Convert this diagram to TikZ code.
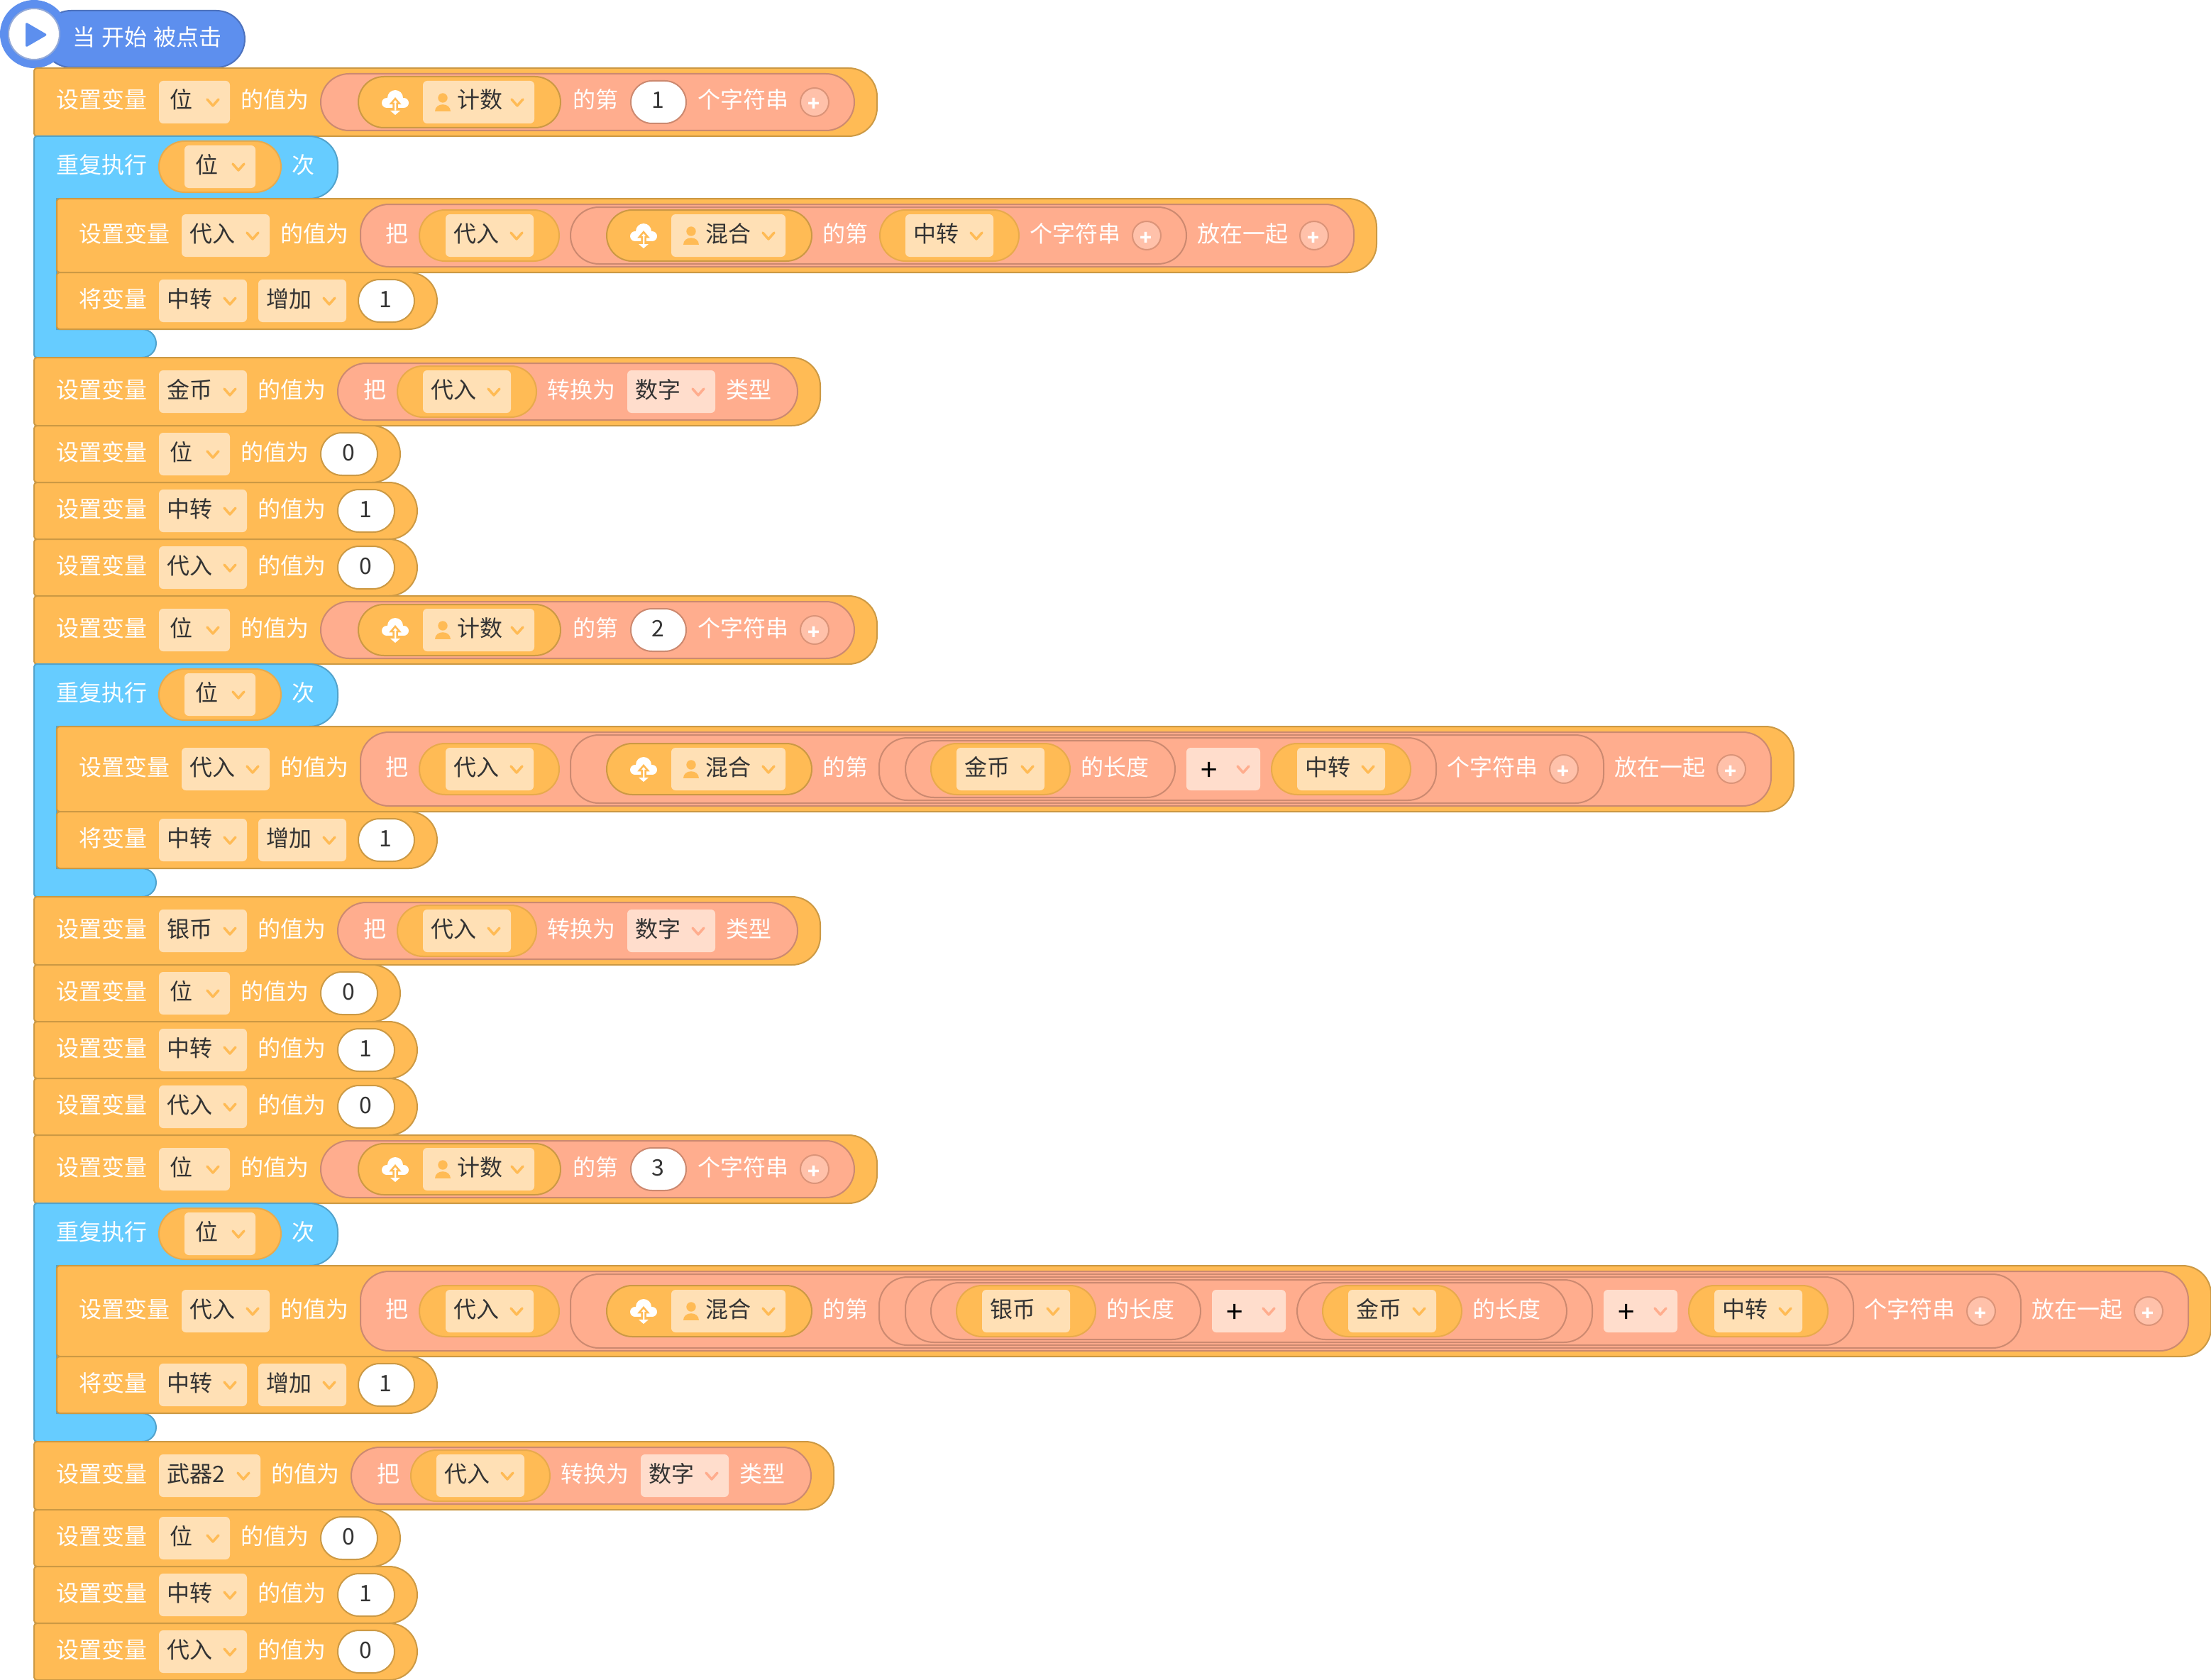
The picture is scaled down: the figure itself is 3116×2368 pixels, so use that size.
\documentclass[tikz,border=0pt]{standalone}
\usepackage{fontspec}
\setmainfont{Noto Sans CJK SC}
\definecolor{setorange}{HTML}{FFBB55}
\definecolor{setedge}{HTML}{CC9944}
\definecolor{varedge}{HTML}{E8AA4C}
\definecolor{loopblue}{HTML}{66CCFF}
\definecolor{loopedge}{HTML}{52A3CC}
\definecolor{hatblue}{HTML}{5D8FEE}
\definecolor{hatedge}{HTML}{4D72BE}
\definecolor{mathpink}{HTML}{FFAD8E}
\definecolor{mathedge}{HTML}{CC8970}
\definecolor{fieldtan}{HTML}{FFE0B5}
\definecolor{oppink}{HTML}{FFDDCC}
\definecolor{inkgrey}{HTML}{333333}
\tikzset{
    setblock/.style={fill=setorange, draw=setedge, line width=2pt},
    loopblock/.style={fill=loopblue, draw=loopedge, line width=2pt},
    hatblock/.style={fill=hatblue, draw=hatedge, line width=2pt},
    mathpill/.style={fill=mathpink, draw=mathedge, line width=2pt},
    varpill/.style={fill=setorange, draw=varedge, line width=2pt},
    cloudpill/.style={fill=setorange, draw=setedge, line width=2pt},
    plusbtn/.style={fill=mathpink!75!white, draw=mathedge!70!mathpink, line width=2pt},
    lbl/.style={inner sep=0pt, anchor=west, text=white, font=\fontsize{32}{32}\selectfont, text height=28pt, text depth=4pt, xshift=-1pt, yshift=3pt},
    inklbl/.style={lbl, text=inkgrey},
    chev/.style={line width=3.5pt, line cap=round, line join=round}
}
\newcommand{\capsule}[5]{%
    \pgfmathsetmacro{\cornerr}{min(40,#5)}
    \draw[#1, rounded corners=\cornerr pt] (#2,{#4-(#5)}) rectangle (#3,{#4+(#5)});
}
\newcommand{\stackblock}[5]{%
    \pgfmathsetmacro{\cornerr}{min(40,((#5)-(#4))/2)}
    \draw[#1] (#2,#4+4) arc[start angle=180, end angle=90, radius=4pt] -- (#3-\cornerr,#4)
        arc[start angle=90, end angle=0, radius=\cornerr pt] -- (#3,#5-\cornerr)
        arc[start angle=0, end angle=-90, radius=\cornerr pt] -- (#2+4,#5)
        arc[start angle=-90, end angle=-180, radius=4pt] -- cycle;
}
\newcommand{\loopshape}[4]{%
    \draw[loopblock] (48,#1+4) arc[start angle=180, end angle=90, radius=4pt] -- (436,#1)
        arc[start angle=90, end angle=0, radius=40pt] -- (476,#2-40)
        arc[start angle=0, end angle=-90, radius=40pt] -- (80,#2) -- (80,#3) -- (200,#3)
        arc[start angle=90, end angle=-90, radius=20pt] -- (52,#4)
        arc[start angle=-90, end angle=-180, radius=4pt] -- cycle;
    \node[lbl] (lbl80-#1) at (80,#1+43) {重复执行};
    \capsule{varpill}{224}{396}{#1+43}{36}
    \dropfield{260}{360}{#1+43}{位}
    \node[lbl] (lbl412-#1) at (412,#1+43) {次};
}
\newcommand{\dropfield}[4]{%
    \fill[fieldtan, rounded corners=6pt] (#1,#3-30) rectangle (#2,#3+30);
    \node[inklbl, anchor=center] (fld#1-#3) at ({(#1+#2-36)/2},#3) {#4};
    \draw[chev, setorange] (#2-32,#3-4) -- (#2-24,#3+5) -- (#2-16,#3-4);
}
\newcommand{\userfield}[4]{%
    \fill[fieldtan, rounded corners=6pt] (#1,#3-30) rectangle (#2,#3+30);
    \fill[setorange] (#1+28,#3-6) ellipse[x radius=6.7pt, y radius=6.7pt];
    \fill[setorange] (#1+17,#3+13) .. controls (#1+17,#3) and (#1+39,#3) .. (#1+39,#3+13) -- cycle;
    \node[inklbl] (fld#1-#3) at (#1+49,#3) {#4};
    \draw[chev, setorange] (#2-32,#3-4) -- (#2-24,#3+5) -- (#2-16,#3-4);
}
\newcommand{\opfield}[4]{%
    \fill[oppink, rounded corners=6pt] (#1,#3-30) rectangle (#2,#3+30);
    \node[inklbl, anchor=center] (op#1-#3) at ({(#1+#2-36)/2},#3) {#4};
    \draw[chev, mathpink] (#2-32,#3-4) -- (#2-24,#3+5) -- (#2-16,#3-4);
}
\newcommand{\plusfield}[2]{%
    \fill[oppink, rounded corners=6pt] (#1,#2-30) rectangle (#1+104,#2+30);
    \node[inklbl, anchor=center, text=black, font=\fontsize{42}{42}\selectfont, yshift=-7pt] (op#1-#2) at (#1+33,#2) {+};
    \draw[chev, mathpink] (#1+72,#2-4) -- (#1+80,#2+5) -- (#1+88,#2-4);
}
\newcommand{\numpill}[5][setedge]{%
    \draw[fill=white, draw=#1, line width=2pt, rounded corners=30pt] (#2,#4-30) rectangle (#3,#4+30);
    \node[inklbl, anchor=center] (num#2-#4) at ({(#2+#3)/2},#4) {#5};
}
\newcommand{\plusround}[2]{%
    \draw[plusbtn] (#1,#2) circle[radius=20pt];
    \node[lbl, anchor=center, text=white, font=\fontsize{28}{28}\selectfont\bfseries, yshift=-4pt] (add#1-#2) at (#1,#2) {+};
}
\newcommand{\cloudmark}[2]{%
    \begin{scope}[shift={(#1,#2)}]
        \fill[white] (0,-6) circle[radius=11pt] (-12,1) circle[radius=7pt] (12,1) circle[radius=7pt];
        \fill[white] (-12,-2) rectangle (12,8);
        \filldraw[fill=white, draw=setorange, line width=2.5pt] (0,-5) -- (-6,2) -- (-2.5,2) -- (-2.5,13) -- (2.5,13) -- (2.5,2) -- (6,2) -- cycle;
        \fill[white] (-7,12) -- (7,12) -- (0,18) -- cycle;
    \end{scope}
}
\newcommand{\cloudvar}[4]{%
    \capsule{cloudpill}{#1}{#2}{#3}{36}
    \cloudmark{#1+52}{#3}
    \userfield{#1+91}{#2-37}{#3}{#4}
}
\newcommand{\setvarhead}[4]{%
    \node[lbl] (lbl#1-#2) at (#1,#2) {设置变量};
    \dropfield{#1+144}{#3}{#2}{#4}
    \node[lbl] (val#1-#2) at (#3+16,#2) {的值为};
}
\newcommand{\setnumber}[4]{%
    \stackblock{setblock}{48}{#3+240}{#1-40}{#1+40}
    \setvarhead{80}{#1}{#3}{#2}
    \numpill{#3+128}{#3+208}{#1}{#4}
}
\newcommand{\pickrow}[2]{%
    \stackblock{setblock}{48}{1236}{#1-48}{#1+48}
    \setvarhead{80}{#1}{324}{位}
    \capsule{mathpill}{452}{1204}{#1}{40}
    \cloudvar{505}{790}{#1}{计数}
    \node[lbl] (lbl808-#1) at (808,#1) {的第};
    \numpill[mathedge]{889}{967}{#1}{#2}
    \node[lbl] (lbl984-#1) at (984,#1) {个字符串};
    \plusround{1148}{#1}
}
\newcommand{\convertrow}[4]{%
    \stackblock{setblock}{48}{#3+1156-348}{#1-48}{#1+48}
    \setvarhead{80}{#1}{#3}{#2}
    \begin{scope}[xshift=#4 pt]
        \capsule{mathpill}{476}{1124}{#1}{40}
        \node[lbl] (lbl513-#1) at (513,#1) {把};
        \capsule{varpill}{560}{756}{#1}{36}
        \dropfield{596}{720}{#1}{代入}
        \node[lbl] (lbl772-#1) at (772,#1) {转换为};
        \opfield{884}{1008}{#1}{数字}
        \node[lbl] (lbl1024-#1) at (1024,#1) {类型};
    \end{scope}
}
\newcommand{\mixrow}[3]{%
    \stackblock{setblock}{80}{#3+488}{#1-#2-8}{#1+#2+8}
    \setvarhead{112}{#1}{380}{代入}
    \capsule{mathpill}{508}{#3+456}{#1}{#2}
    \node[lbl] (lbl544-#1) at (544,#1) {把};
    \capsule{varpill}{591}{788}{#1}{36}
    \dropfield{628}{752}{#1}{代入}
    \capsule{mathpill}{804}{#3+220}{#1}{#2-4}
    \cloudvar{855}{1144}{#1}{混合}
    \node[lbl] (lbl1160-#1) at (1160,#1) {的第};
    \node[lbl] (str-#1) at (#3,#1) {个字符串};
    \plusround{#3+164}{#1}
    \node[lbl] (join-#1) at (#3+236,#1) {放在一起};
    \plusround{#3+400}{#1}
}
\newcommand{\addrow}[1]{%
    \stackblock{setblock}{80}{616}{#1-40}{#1+40}
    \node[lbl] (lbl112-#1) at (112,#1) {将变量};
    \dropfield{224}{348}{#1}{中转}
    \dropfield{364}{488}{#1}{增加}
    \numpill{505}{584}{#1}{1}
}
\newcommand{\lenpill}[5]{%
    \capsule{mathpill}{#1}{#2}{#3}{40}
    \capsule{varpill}{#1+36}{#1+232}{#3}{36}
    \dropfield{#1+72}{#1+196}{#3}{#4}
    \node[lbl] (len#1-#3) at (#5,#3) {的长度};
}
\begin{document}
\begin{tikzpicture}[x=1pt, y=-1pt]
    \path[use as bounding box, fill=white] (0,0) rectangle (3116,2368);
    \capsule{hatblock}{60}{345}{55}{40}
    \fill[hatblue] (48,48) circle[radius=48pt];
    \draw[fill=white, draw=hatedge!60!white, line width=2pt] (48,48) circle[radius=36pt];
    \fill[hatblue, rounded corners=3pt] (36,31) -- (67,49) -- (36,67) -- cycle;
    \node[lbl] (hatlbl) at (103,56) {\spaceskip=9pt 当 开始 被点击};

    \pickrow{144}{1}
    \loopshape{192}{280}{464}{504}
    \mixrow{332}{44}{1452}
    \capsule{varpill}{1240}{1436}{332}{36}
    \dropfield{1276}{1400}{332}{中转}
    \addrow{424}

    \convertrow{552}{金币}{348}{0}
    \setnumber{640}{位}{324}{0}
    \setnumber{720}{中转}{348}{1}
    \setnumber{800}{代入}{348}{0}
    \pickrow{888}{2}
    \loopshape{936}{1024}{1224}{1264}
    \mixrow{1084}{52}{2040}
    \capsule{mathpill}{1239}{2024}{1084}{44}
    \lenpill{1276}{1656}{1084}{金币}{1524}
    \plusfield{1672}{1084}
    \capsule{varpill}{1792}{1988}{1084}{36}
    \dropfield{1828}{1952}{1084}{中转}
    \addrow{1184}

    \convertrow{1312}{银币}{348}{0}
    \setnumber{1400}{位}{324}{0}
    \setnumber{1480}{中转}{348}{1}
    \setnumber{1560}{代入}{348}{0}
    \pickrow{1648}{3}
    \loopshape{1696}{1784}{1992}{2032}
    \mixrow{1848}{56}{2628}
    \capsule{mathpill}{1239}{2612}{1848}{48}
    \capsule{mathpill}{1276}{2244}{1848}{44}
    \lenpill{1312}{1692}{1848}{银币}{1560}
    \plusfield{1708}{1848}
    \lenpill{1828}{2208}{1848}{金币}{2076}
    \plusfield{2260}{1848}
    \capsule{varpill}{2380}{2576}{1848}{36}
    \dropfield{2416}{2540}{1848}{中转}
    \addrow{1952}

    \convertrow{2080}{武器2}{367}{19}
    \setnumber{2168}{位}{324}{0}
    \setnumber{2248}{中转}{348}{1}
    \setnumber{2328}{代入}{348}{0}
\end{tikzpicture}
\end{document}
